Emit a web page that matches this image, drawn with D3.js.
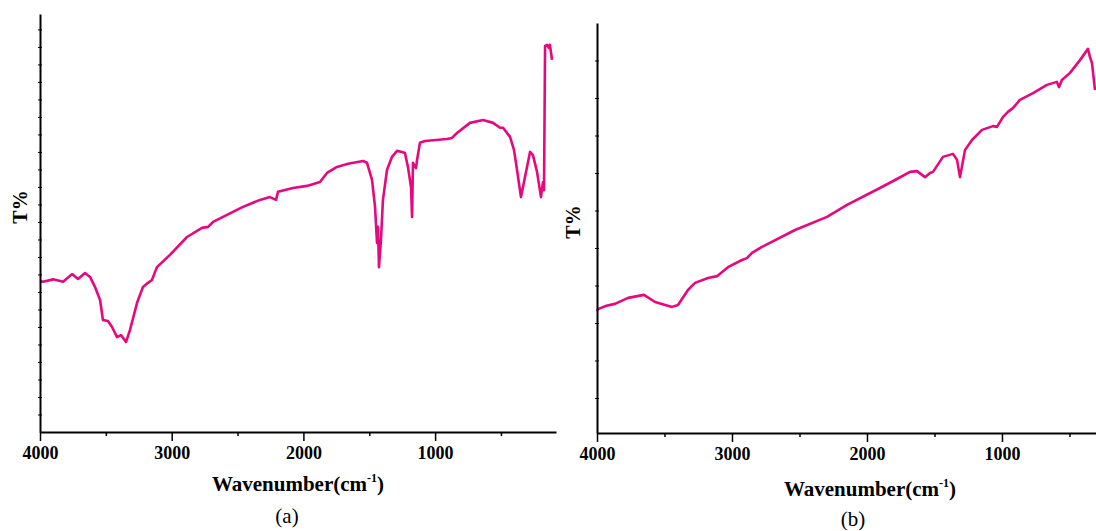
<!DOCTYPE html>
<html>
<head>
<meta charset="utf-8">
<script src="https://cdn.jsdelivr.net/npm/d3@7"></script>
<style>
  body { margin: 0; background: #fff; }
  svg { display: block; }
</style>
</head>
<body>
<script>
// panel (a) spectrum: wavenumber (cm-1) and T%
const waveA = [4000, 3977, 3900, 3825, 3757, 3711, 3658, 3620, 3582, 3544, 3522, 3484, 3453, 3415, 3385, 3347, 3317, 3263, 3218, 3180, 3150, 3112, 3013, 2884, 2770, 2724, 2686, 2580, 2459, 2330, 2254, 2208, 2193, 2079, 1973, 1874, 1821, 1745, 1661, 1547, 1517, 1479, 1456, 1441, 1434, 1426, 1411, 1396, 1365, 1327, 1289, 1251, 1229, 1206, 1183, 1175, 1168, 1145, 1137, 1115, 1077, 910, 872, 834, 735, 636, 560, 507, 484, 431, 401, 378, 348, 317, 279, 257, 226, 196, 181, 173, 165, 150, 135, 128, 112];
const transA = [43.1, 42.9, 43.6, 42.9, 45.1, 43.7, 45.4, 44.3, 41.4, 37.7, 32.0, 31.7, 30.0, 27.1, 27.7, 25.7, 29.1, 36.9, 41.4, 42.6, 43.4, 47.1, 50.6, 55.7, 58.3, 58.6, 60.0, 62.0, 64.3, 66.3, 67.1, 66.3, 68.6, 69.7, 70.3, 71.4, 74.0, 75.7, 76.6, 77.4, 76.9, 72.0, 64.3, 54.0, 58.6, 47.1, 54.9, 66.3, 74.9, 78.6, 80.3, 80.0, 79.7, 75.7, 70.0, 61.4, 76.9, 75.4, 77.7, 82.6, 83.1, 83.7, 84.0, 85.4, 88.3, 89.1, 88.3, 86.9, 86.9, 84.3, 80.6, 74.9, 67.1, 72.9, 80.0, 79.1, 74.3, 67.1, 71.4, 69.1, 110.3, 110.6, 109.7, 110.6, 106.3];

// panel (b) spectrum
const waveB = [4000, 3993, 3930, 3867, 3770, 3652, 3570, 3444, 3400, 3326, 3274, 3178, 3111, 3030, 2926, 2889, 2852, 2778, 2533, 2296, 2148, 1904, 1778, 1681, 1630, 1570, 1533, 1511, 1437, 1363, 1333, 1311, 1274, 1222, 1148, 1067, 1037, 993, 956, 919, 867, 770, 667, 593, 578, 556, 496, 422, 363, 348, 333, 311];
const transB = [23.2, 23.7, 24.6, 25.1, 26.7, 27.5, 25.6, 24.3, 24.8, 28.8, 30.7, 32.0, 32.5, 34.9, 36.8, 37.3, 38.7, 40.3, 44.8, 48.3, 51.5, 56.0, 58.4, 60.3, 60.5, 58.9, 60.0, 60.3, 64.3, 65.1, 63.5, 58.9, 66.1, 68.8, 71.5, 72.5, 72.3, 74.9, 76.3, 77.3, 79.5, 81.3, 83.5, 84.3, 82.9, 84.8, 86.7, 90.1, 93.1, 90.9, 89.3, 82.1];

const majorTicks = [4000, 3000, 2000, 1000];
const minorTicks = [3500, 2500, 1500, 500];
const yTicksA = d3.range(5, 116, 5);
const yTicksB = d3.range(0, 91, 10);

const lineColor = '#e6087f';
const fontFam = '"Liberation Serif", "Times New Roman", serif';

const svg = d3.select('body')
  .append('svg')
  .attr('width', 1096)
  .attr('height', 531);

const panels = [
  {wave: waveA, trans: transA, left: 40, top: 14, width: 516, height: 418,
   xDomain: [4000, 82], yDomain: [0, 119.4], yTicks: yTicksA,
   yLabel: [20, 207], xLabelX: 298, xLabelY: 491, tag: '(a)', tagX: 287, tagY: 523},
  {wave: waveB, trans: transB, left: 597, top: 23, width: 505, height: 410,
   xDomain: [4000, 259], yDomain: [-9.33, 100], yTicks: yTicksB,
   yLabel: [573, 222], xLabelX: 870, xLabelY: 496, tag: '(b)', tagX: 853, tagY: 526}
];

panels.forEach((p) => {
  const g = svg.append('g').attr('transform', `translate(${p.left},${p.top})`);

  const x = d3.scaleLinear().domain(p.xDomain).range([0, p.width]);
  const y = d3.scaleLinear().domain(p.yDomain).range([p.height, 0]);

  // spectrum line
  const pts = p.wave.map((w, i) => [w, p.trans[i]]);
  g.append('path')
    .datum(pts)
    .attr('fill', 'none')
    .attr('stroke', lineColor)
    .attr('stroke-width', 2.6)
    .attr('stroke-linejoin', 'round')
    .attr('d', d3.line().x((d) => x(d[0])).y((d) => y(d[1])));

  // minor x ticks
  const xMinor = g.append('g')
    .attr('transform', `translate(0,${p.height})`)
    .call(d3.axisBottom(x).tickValues(minorTicks).tickSize(4).tickFormat(''));
  xMinor.select('.domain').remove();
  xMinor.selectAll('line').attr('stroke-width', 1.5);

  // major x ticks + labels
  const xAxis = g.append('g')
    .attr('transform', `translate(0,${p.height})`)
    .call(d3.axisBottom(x).tickValues(majorTicks).tickSize(9).tickSizeOuter(0).tickPadding(5).tickFormat(d3.format('d')));
  xAxis.select('.domain').attr('stroke-width', 2);
  xAxis.selectAll('line').attr('stroke-width', 1.5);
  xAxis.selectAll('text')
    .attr('font-family', fontFam)
    .attr('font-weight', 'bold')
    .attr('font-size', 18)
    .attr('fill', '#000');

  // y axis, no labels
  const yAxis = g.append('g')
    .call(d3.axisLeft(y).tickValues(p.yTicks).tickSize(3).tickSizeOuter(0).tickFormat(''));
  yAxis.select('.domain').attr('stroke-width', 2);
  yAxis.selectAll('.tick line').attr('x1', 2).attr('x2', -2).attr('stroke-width', 1);

  // y label
  svg.append('text')
    .attr('transform', `translate(${p.yLabel[0]},${p.yLabel[1]}) rotate(-90)`)
    .attr('text-anchor', 'middle')
    .attr('dominant-baseline', 'central')
    .attr('font-family', fontFam)
    .attr('font-weight', 'bold')
    .attr('font-size', 20)
    .text('T%');

  // x label with superscript
  const xl = svg.append('text')
    .attr('x', p.xLabelX)
    .attr('y', p.xLabelY)
    .attr('text-anchor', 'middle')
    .attr('font-family', fontFam)
    .attr('font-weight', 'bold')
    .attr('font-size', 21);
  xl.append('tspan').text('Wavenumber(cm');
  xl.append('tspan').attr('font-size', 12).attr('dy', -9).text('-1');
  xl.append('tspan').attr('dy', 9).text(')');

  svg.append('text')
    .attr('x', p.tagX)
    .attr('y', p.tagY)
    .attr('text-anchor', 'middle')
    .attr('font-family', fontFam)
    .attr('font-size', 21)
    .text(p.tag);
});
</script>
</body>
</html>
